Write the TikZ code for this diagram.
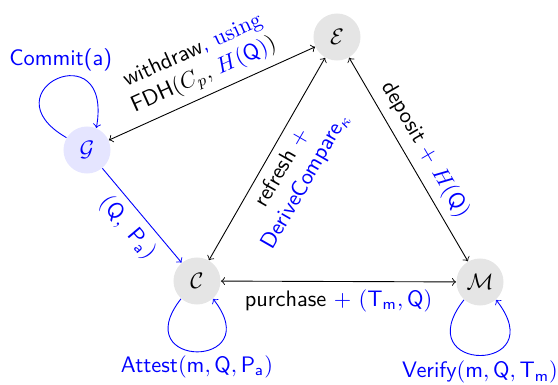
\documentclass[tikz,border=0pt]{standalone}
\renewcommand{\familydefault}{\sfdefault}
\begin{document}
\begin{tikzpicture}[x=0.4464pt,y=-0.4464pt,
  state/.style={circle,fill=gray!20,minimum size=21pt,inner sep=0pt},
  gstate/.style={state,fill=blue!10,text=blue},
  lbl/.style={sloped,align=center}]
\useasboundingbox (0,0) rectangle (558,385);
\node[state] (E) at (337,37) {$\mathcal{E}$};
\node[gstate] (G) at (87,150) {$\mathcal{G}$};
\node[state] (C) at (197,281) {$\mathcal{C}$};
\node[state] (M) at (480,282) {$\mathcal{M}$};

\draw[<->] (G) -- node[lbl,above]{withdraw{\color{blue}, \textrm{using}}\\FDH$(C_p,$ {\color{blue}$H(\mathsf{Q})$}$)$} (E);
\draw[<->] (C) -- node[lbl,below]{refresh {\color{blue}$+$}\\{\color{blue}DeriveCompare$_\kappa$}} (E);
\draw[<->] (E) -- node[lbl,above]{deposit {\color{blue}$+\ H(\mathsf{Q})$}} (M);
\draw[<->] (C) -- node[below]{purchase {\color{blue}$+\ (\mathsf{T}_\mathsf{m}, \mathsf{Q})$}} (M);
\draw[->,blue] (G) -- node[lbl,below]{$(\mathsf{Q},\ \mathsf{P}_\mathsf{a})$} (C);

\draw[->,blue] (G.149) .. controls +(150:42pt) and +(80:44pt) .. node[above,xshift=1.5pt]{Commit(a)} (G.67);
\draw[->,blue] (C.228) .. controls +(232:40pt) and +(308:40pt) .. node[below,yshift=2pt]{Attest$(\mathsf{m}, \mathsf{Q}, \mathsf{P}_\mathsf{a})$} (C.312);
\draw[->,blue] (M.228) .. controls +(232:42pt) and +(308:42pt) .. node[below,yshift=1pt]{Verify$(\mathsf{m}, \mathsf{Q}, \mathsf{T}_\mathsf{m})$} (M.312);
\end{tikzpicture}
\end{document}
